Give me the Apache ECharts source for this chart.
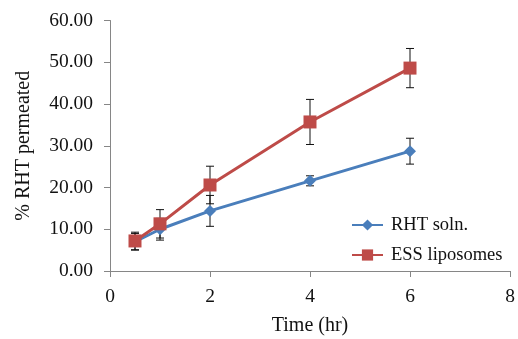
<!DOCTYPE html>
<html>
<head>
<meta charset="utf-8">
<script src="https://cdn.jsdelivr.net/npm/echarts@6/dist/echarts.min.js"></script>
<style>html,body{margin:0;padding:0;background:#fff;}#c{width:518px;height:339px;}</style>
</head>
<body>
<div id="c"></div>
<script>
var timesX = [0.5, 1, 2, 4, 6];
var rhtValues = [7.0, 10.0, 14.4, 21.6, 28.7];
var rhtErrors = [2.0, 2.6, 3.7, 1.2, 3.1];
var essValues = [7.2, 11.3, 20.6, 35.7, 48.6];
var essErrors = [2.1, 3.4, 4.5, 5.4, 4.7];
var seriesNames = ['RHT soln.', 'ESS liposomes'];
var xTicks = [0, 2, 4, 6, 8];
var yTicks = [0, 10, 20, 30, 40, 50, 60];

var FONT = '"Liberation Serif", "Times New Roman", serif';
var chart = echarts.init(document.getElementById('c'));

function pairs(xs, ys) { return xs.map(function (x, i) { return [x, ys[i]]; }); }
function errData(xs, ys, es) { return xs.map(function (x, i) { return [x, ys[i] - es[i], ys[i] + es[i]]; }); }

function renderErr(params, api) {
  var x = api.value(0);
  var lo = api.coord([x, api.value(1)]);
  var hi = api.coord([x, api.value(2)]);
  var w = 4;
  var st = { stroke: '#111', lineWidth: 1 };
  return {
    type: 'group',
    children: [
      { type: 'line', shape: { x1: lo[0], y1: lo[1], x2: hi[0], y2: hi[1] }, style: st },
      { type: 'line', shape: { x1: lo[0] - w, y1: lo[1], x2: lo[0] + w, y2: lo[1] }, style: st },
      { type: 'line', shape: { x1: hi[0] - w, y1: hi[1], x2: hi[0] + w, y2: hi[1] }, style: st }
    ]
  };
}

var axisCommon = {
  axisLine: { show: true, lineStyle: { color: '#868686', width: 1 } },
  axisTick: { show: true, length: 6, lineStyle: { color: '#868686' } },
  splitLine: { show: false }
};

chart.setOption({
  animation: false,
  backgroundColor: '#fff',
  grid: { left: 110, right: 8, top: 20.5, bottom: 68, containLabel: false, outerBoundsMode: 'none' },
  xAxis: Object.assign({
    type: 'value', min: xTicks[0], max: xTicks[xTicks.length - 1], interval: 2,
    name: 'Time (hr)', nameLocation: 'middle', nameGap: 45,
    nameTextStyle: { color: '#111', fontFamily: FONT, fontSize: 20 }
  }, axisCommon, {
    axisLabel: { color: '#111', fontFamily: FONT, fontSize: 19.5, margin: 16 }
  }),
  yAxis: Object.assign({
    type: 'value', min: yTicks[0], max: yTicks[yTicks.length - 1], interval: 10,
    name: '% RHT permeated', nameLocation: 'middle', nameGap: 76, nameRotate: 90,
    nameTextStyle: { color: '#111', fontFamily: FONT, fontSize: 20 }
  }, axisCommon, {
    axisLabel: { color: '#111', fontFamily: FONT, fontSize: 19.5, margin: 17,
      formatter: function (v) { return v.toFixed(2); } }
  }),
  legend: {
    orient: 'vertical', left: 351, top: 215, padding: 0,
    itemWidth: 31, itemHeight: 14, itemGap: 10,
    data: seriesNames,
    textStyle: { color: '#111', fontFamily: FONT, fontSize: 18.5, lineHeight: 20, padding: [0, 0, 0, 3] }
  },
  series: [
    { type: 'custom', renderItem: renderErr, data: errData(timesX, rhtValues, rhtErrors), z: 1, silent: true },
    { type: 'custom', renderItem: renderErr, data: errData(timesX, essValues, essErrors), z: 1, silent: true },
    {
      name: seriesNames[0], type: 'line', data: pairs(timesX, rhtValues), z: 3,
      symbol: 'diamond', symbolSize: 12,
      itemStyle: { color: '#4A7EBB' }, lineStyle: { color: '#4A7EBB', width: 3 }
    },
    {
      name: seriesNames[1], type: 'line', data: pairs(timesX, essValues), z: 4,
      symbol: 'rect', symbolSize: 13,
      itemStyle: { color: '#BE4B48' }, lineStyle: { color: '#BE4B48', width: 3 }
    }
  ]
});
</script>
</body>
</html>
